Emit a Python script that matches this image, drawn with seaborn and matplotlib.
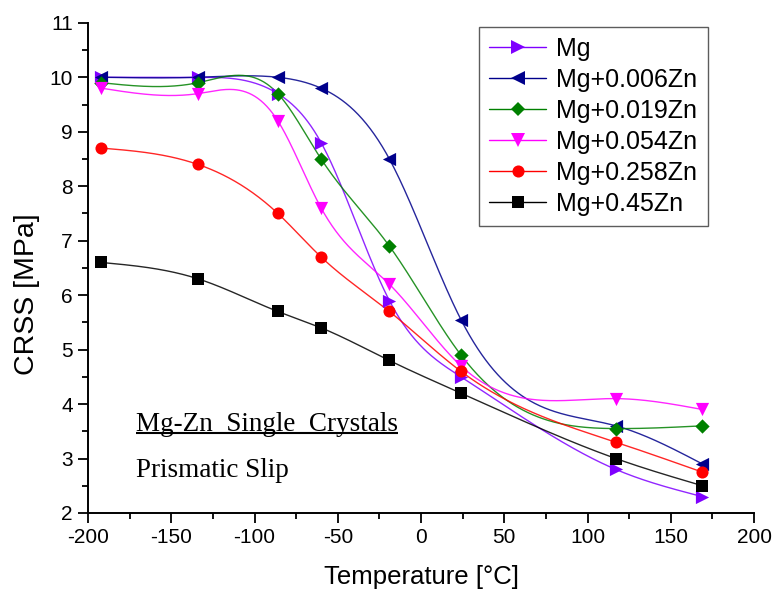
import numpy as np
import pandas as pd
import matplotlib
matplotlib.use("Agg")
import matplotlib.pyplot as plt
from matplotlib.lines import Line2D
from matplotlib.ticker import MultipleLocator
import seaborn as sns

# Test temperatures (°C)
temperature = [-192, -134, -86, -60, -19, 24, 117, 169]

# Critical resolved shear stress (MPa) for each alloy
crss_mg = [10.0, 10.0, 9.7, 8.8, 5.9, 4.5, 2.8, 2.3]
crss_zn006 = [10.0, 10.0, 10.0, 9.8, 8.5, 5.55, 3.6, 2.9]
crss_zn019 = [9.9, 9.9, 9.7, 8.5, 6.9, 4.9, 3.55, 3.6]
crss_zn054 = [9.8, 9.7, 9.2, 7.6, 6.2, 4.7, 4.1, 3.9]
crss_zn258 = [8.7, 8.4, 7.5, 6.7, 5.7, 4.6, 3.3, 2.75]
crss_zn45 = [6.6, 6.3, 5.7, 5.4, 4.8, 4.2, 3.0, 2.5]

alloys = ["Mg", "Mg+0.006Zn", "Mg+0.019Zn", "Mg+0.054Zn", "Mg+0.258Zn", "Mg+0.45Zn"]
values = [crss_mg, crss_zn006, crss_zn019, crss_zn054, crss_zn258, crss_zn45]
colors = ["#7f00ff", "#00008b", "#008000", "#ff00ff", "#ff0000", "#000000"]
markers = [">", "<", "D", "v", "o", "s"]
msizes = [9.5, 9.5, 7.3, 9.5, 8.7, 8.2]


def natural_spline(x, y, xs):
    """Natural cubic spline through (x, y), evaluated at xs."""
    x = np.asarray(x, float)
    y = np.asarray(y, float)
    n = len(x)
    h = np.diff(x)
    A = np.zeros((n, n))
    r = np.zeros(n)
    A[0, 0] = A[-1, -1] = 1.0
    for i in range(1, n - 1):
        A[i, i - 1] = h[i - 1]
        A[i, i] = 2 * (h[i - 1] + h[i])
        A[i, i + 1] = h[i]
        r[i] = 3 * ((y[i + 1] - y[i]) / h[i] - (y[i] - y[i - 1]) / h[i - 1])
    c = np.linalg.solve(A, r)
    b = (y[1:] - y[:-1]) / h - h * (2 * c[:-1] + c[1:]) / 3
    d = (c[1:] - c[:-1]) / (3 * h)
    idx = np.clip(np.searchsorted(x, xs, side="right") - 1, 0, n - 2)
    dx = xs - x[idx]
    return y[idx] + b[idx] * dx + c[idx] * dx ** 2 + d[idx] * dx ** 3


sns.set_style("ticks")
plt.rcParams["font.family"] = ["Liberation Sans", "DejaVu Sans"]
plt.rcParams["axes.unicode_minus"] = False
plt.rcParams["text.color"] = "black"
plt.rcParams["axes.labelcolor"] = "black"
plt.rcParams["xtick.color"] = "black"
plt.rcParams["ytick.color"] = "black"

fig = plt.figure(figsize=(7.72, 5.94), dpi=100)
ax = fig.add_axes([0.114, 0.1364, 0.8627, 0.8252])

xs = np.linspace(temperature[0], temperature[-1], 600)
handles = []
for name, vals, col, mk, ms in zip(alloys, values, colors, markers, msizes):
    curve = pd.DataFrame({"T": xs, "CRSS": natural_spline(temperature, vals, xs)})
    pts = pd.DataFrame({"T": temperature, "CRSS": vals})
    sns.lineplot(data=curve, x="T", y="CRSS", color=col, linewidth=1.0,
                 alpha=0.85, ax=ax, zorder=2)
    sns.scatterplot(data=pts, x="T", y="CRSS", color=col, marker=mk,
                    s=ms ** 2, linewidth=0, ax=ax, zorder=3)
    handles.append(Line2D([], [], color=col, linewidth=1.0, marker=mk,
                          markersize=ms, markeredgewidth=0, label=name))

ax.set_xlim(-200, 200)
ax.set_ylim(2, 11)
ax.xaxis.set_major_locator(MultipleLocator(50))
ax.xaxis.set_minor_locator(MultipleLocator(25))
ax.yaxis.set_major_locator(MultipleLocator(1))
ax.yaxis.set_minor_locator(MultipleLocator(0.5))
ax.tick_params(which="major", direction="out", length=7, width=1.3,
               labelsize=15, colors="black", pad=4)
ax.tick_params(which="minor", direction="out", length=4, width=1.3)
for side in ("left", "bottom"):
    ax.spines[side].set_linewidth(1.4)
    ax.spines[side].set_color("black")
sns.despine(ax=ax)

ax.set_xlabel("Temperature [°C]", fontsize=18.5, labelpad=13)
ax.set_ylabel("CRSS [MPa]", fontsize=20.5)
ax.yaxis.set_label_coords(-0.072, 0.447)

leg = ax.legend(handles=handles, loc="upper right",
                bbox_to_anchor=(707.5 / 772, 1 - 27 / 594),
                bbox_transform=fig.transFigure, fontsize=18,
                handlelength=2.3, handletextpad=0.4, labelspacing=0.28,
                borderpad=0.4, borderaxespad=0, frameon=True, fancybox=False)
leg.get_frame().set_edgecolor("#333333")
leg.get_frame().set_linewidth(1.0)

serif = ["Liberation Serif", "DejaVu Serif"]
title_txt = ax.text(-171, 3.51, "Mg-Zn  Single  Crystals", family=serif,
                    fontsize=19.5, va="baseline", ha="left", color="black")
ax.text(-171, 2.66, "Prismatic Slip", family=serif, fontsize=19.5,
        va="baseline", ha="left", color="black")

# Underline the first annotation line
fig.canvas.draw()
bb = title_txt.get_window_extent().transformed(ax.transAxes.inverted())
y_under = bb.y0 + 0.008
ax.plot([bb.x0, bb.x1], [y_under, y_under], transform=ax.transAxes,
        color="black", linewidth=1.5, solid_capstyle="butt")

fig.savefig("out.png", dpi=100)
